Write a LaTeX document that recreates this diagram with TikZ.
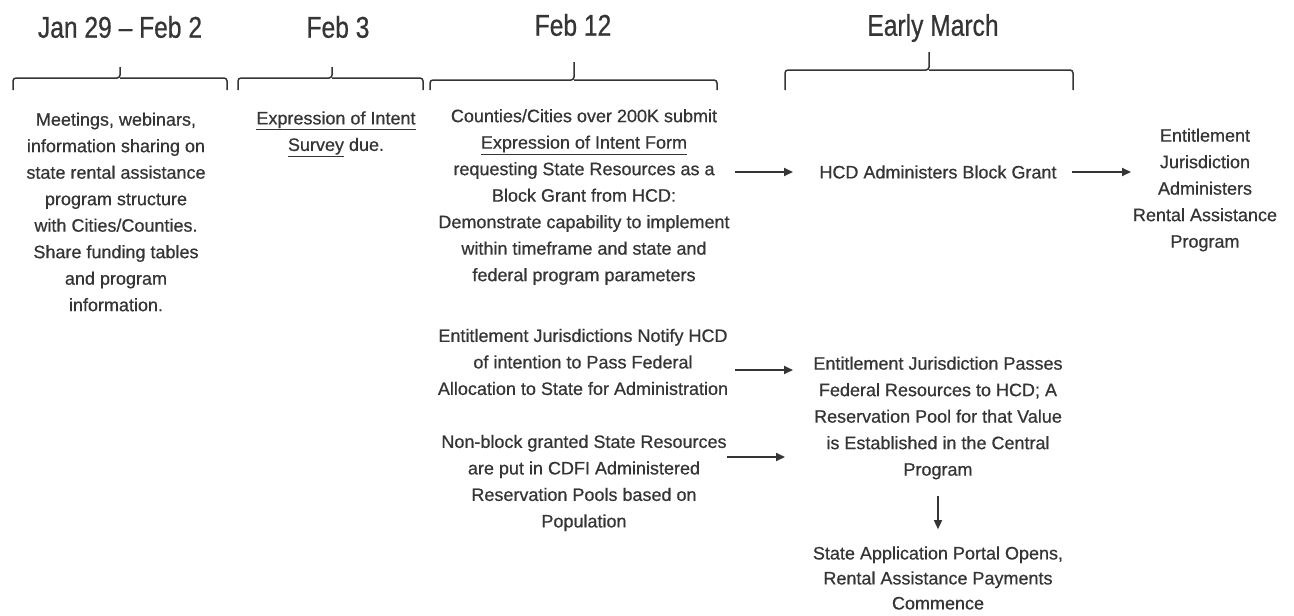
\documentclass[tikz,border=0pt]{standalone}
\usepackage{fontspec}
\setmainfont{Liberation Sans}[FakeBold=0.5]
\newfontfamily\bodyfont[FakeBold=0.6]{Liberation Sans}
\newfontfamily\headfont[FakeStretch=0.82,FakeBold=0.6]{Liberation Sans}
\usetikzlibrary{arrows.meta}
\definecolor{ink}{HTML}{353535}
\begin{document}
\begin{tikzpicture}[x=1pt,y=-1pt,
  txt/.style={align=center, inner sep=0pt, text=ink, font=\bodyfont\fontsize{18}{26.5}\selectfont},
  head/.style={inner sep=0pt, text=ink, font=\headfont\fontsize{30}{36}\selectfont},
  arr/.style={draw=ink, line width=1.8pt, -{Triangle[length=9pt,width=8pt]}},
  brk/.style={draw=ink, line width=1.5pt, rounded corners=3pt}]
\useasboundingbox[fill=white] (0,0) rectangle (1294,616);

% headings
\node[head] (h1) at (120,27) {Jan 29 – Feb 2};
\node[head] (h2) at (338,27) {Feb 3};
\node[head] (h3) at (573,25) {Feb 12};
\node[head] (h4) at (933,28) {Early March};

% brackets
\draw[brk] (13,90) |- (120,78) -- (120,67);
\draw[brk] (120,78) -| (227,90);
\draw[brk] (238,90) |- (332,78) -- (332,67);
\draw[brk] (332,78) -| (423,90);
\draw[brk] (430,90) |- (574,80) -- (574,62);
\draw[brk] (574,80) -| (717,90);
\draw[brk] (785,90) |- (929,70) -- (929,52);
\draw[brk] (929,70) -| (1073,90);

% text blocks
\node[txt] (c1) at (116,212) {Meetings, webinars,\\information sharing on\\state rental assistance\\program structure\\with Cities/Counties.\\Share funding tables\\and program\\information.};
\node[txt] (c2) at (336,134) {\underline{Expression of Intent}\\\underline{Survey} due.};
\node[txt] (c3) at (584,197) {Counties/Cities over 200K submit\\\underline{Expression of Intent Form}\\requesting State Resources as a\\Block Grant from HCD:\\Demonstrate capability to implement\\within timeframe and state and\\federal program parameters};
\node[txt] (hcd) at (938,172) {HCD Administers Block Grant};
\node[txt] (ent) at (1205,190) {Entitlement\\Jurisdiction\\Administers\\Rental Assistance\\Program};
\node[txt] (notify) at (583,362) {Entitlement Jurisdictions Notify HCD\\of intention to Pass Federal\\Allocation to State for Administration};
\node[txt] (nonblock) at (584,483) {Non-block granted State Resources\\are put in CDFI Administered\\Reservation Pools based on\\Population};
\node[txt] (passes) at (938,418) {Entitlement Jurisdiction Passes\\Federal Resources to HCD; A\\Reservation Pool for that Value\\is Established in the Central\\Program};
\node[txt, font=\bodyfont\fontsize{18}{25}\selectfont] (portal) at (938,578) {State Application Portal Opens,\\Rental Assistance Payments\\Commence};

% arrow end points
\coordinate (a1s) at (735,172);
\coordinate (a1e) at (793,172);
\coordinate (a2s) at (1072,172);
\coordinate (a2e) at (1131,172);
\coordinate (a3s) at (735,370);
\coordinate (a3e) at (793,370);
\coordinate (a4s) at (727,457);
\coordinate (a4e) at (785,457);

\draw[arr] (a1s) -- (a1e);
\draw[arr] (a2s) -- (a2e);
\draw[arr] (a3s) -- (a3e);
\draw[arr] (a4s) -- (a4e);
\draw[arr, line width=1.4pt, shorten <=16pt, shorten >=17pt] (passes.south) -- (portal.north);
\end{tikzpicture}
\end{document}
